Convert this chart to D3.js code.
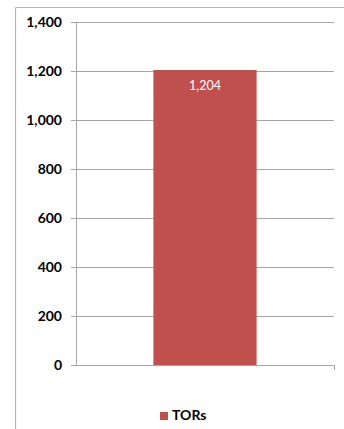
<!DOCTYPE html>
<html><head><meta charset="utf-8">
<script src="https://cdn.jsdelivr.net/npm/d3@7"></script>
<style>body{margin:0;background:#fff}svg{display:block}</style>
</head><body>
<script>
const categories = ["TORs"];
const seriesName = "TORs";
const values = [1204];
const yTicks = [0,200,400,600,800,1000,1200,1400];

const W=344,H=429;
const svg=d3.select("body").append("svg").attr("width",W).attr("height",H);
const font="'Lato','Open Sans',sans-serif";
// outer frame
svg.append("line").attr("x1",15.5).attr("x2",W).attr("y1",7.5).attr("y2",7.5).attr("stroke","#b5b5b5").attr("stroke-width",1.2);
svg.append("line").attr("x1",15.5).attr("x2",15.5).attr("y1",7.5).attr("y2",H).attr("stroke","#b5b5b5").attr("stroke-width",1.2);

const x0=76,x1=334,yTop=22,yBot=365;
const y=d3.scaleLinear().domain([0,1400]).range([yBot,yTop]);
const x=d3.scaleBand().domain(categories).range([x0,x1]).paddingInner(0).paddingOuter(0.75);

const grid=svg.append("g");
grid.selectAll("line").data(yTicks.filter(t=>t>0)).join("line")
 .attr("x1",71).attr("x2",x1).attr("y1",d=>Math.round(y(d))+0.5).attr("y2",d=>Math.round(y(d))+0.5)
 .attr("stroke","#a6a6a6").attr("stroke-width",1);

svg.selectAll("rect.bar").data(values).join("rect").attr("class","bar")
 .attr("x",(d,i)=>x(categories[i])).attr("width",x.bandwidth())
 .attr("y",d=>y(d)).attr("height",d=>yBot-y(d)).attr("fill","#c0504d");

// axes
svg.append("line").attr("x1",x0+0.5).attr("x2",x0+0.5).attr("y1",yTop).attr("y2",yBot).attr("stroke","#a6a6a6");
svg.append("line").attr("x1",71).attr("x2",x1).attr("y1",yBot+0.5).attr("y2",yBot+0.5).attr("stroke","#a6a6a6");
svg.append("line").attr("x1",x1+0.5).attr("x2",x1+0.5).attr("y1",yBot).attr("y2",yBot+5).attr("stroke","#a6a6a6");

svg.append("g").selectAll("text").data(yTicks).join("text")
 .attr("x",62).attr("y",d=>y(d)).attr("dy","0.36em").attr("text-anchor","end")
 .attr("font-family",font).attr("font-weight","bold").attr("font-size",14).attr("fill","#000")
 .text(d=>d3.format(",")(d));

svg.selectAll("text.val").data(values).join("text").attr("class","val")
 .attr("x",(d,i)=>x(categories[i])+x.bandwidth()/2).attr("y",d=>y(d)+20)
 .attr("text-anchor","middle").attr("font-family",font).attr("font-size",12.5).attr("fill","#fff")
 .text(d=>d3.format(",")(d));

// legend
svg.append("rect").attr("x",160).attr("y",412).attr("width",8).attr("height",8).attr("fill","#c0504d");
svg.append("text").attr("x",172).attr("y",420).attr("font-family",font).attr("font-weight","bold").attr("font-size",14).attr("fill","#000").text(seriesName);
</script>
</body></html>
